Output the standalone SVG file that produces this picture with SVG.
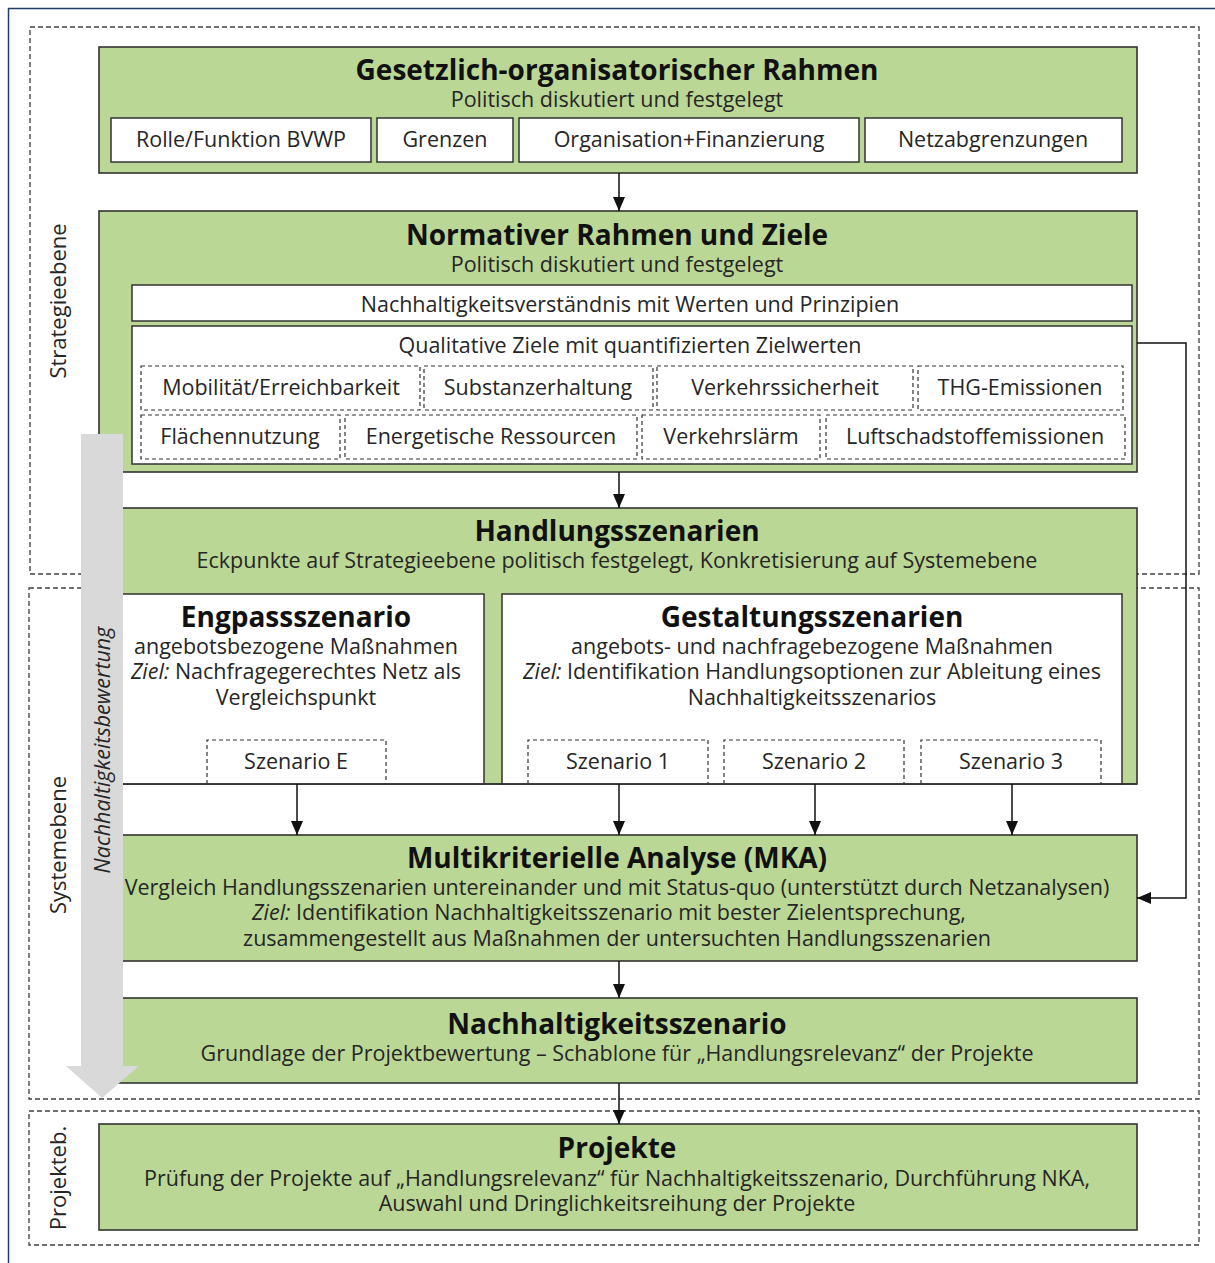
<svg xmlns="http://www.w3.org/2000/svg" width="1215" height="1263" viewBox="0 0 1215 1263">
<defs>
<style>
.frame{fill:none;stroke:#1f3d6b;stroke-width:1.5}
.sec{fill:none;stroke:#404040;stroke-width:1.3;stroke-dasharray:5,3}
.g{fill:#bbd795;stroke:#333;stroke-width:1.6}
.w{fill:#fff;stroke:#333;stroke-width:1.5}
.d{fill:#fff;stroke:#333;stroke-width:1.2;stroke-dasharray:4,3}
.dl{fill:none;stroke:#333;stroke-width:1.2;stroke-dasharray:4,3}
text{font-family:"Open Sans","Noto Sans","DejaVu Sans",sans-serif;fill:#262626;text-anchor:middle}
.t{font-size:28px;font-weight:bold;fill:#111}
.s{font-size:21.5px}
.lab{font-size:22px}
.conn{fill:none;stroke:#111;stroke-width:1.5}
</style>
<marker id="ah" viewBox="0 0 14 12" refX="14" refY="6" markerWidth="14" markerHeight="12" markerUnits="userSpaceOnUse" orient="auto">
<path d="M0,0 L14,6 L0,12 z" fill="#111"/>
</marker>
</defs>
<rect width="1215" height="1263" fill="#fff"/>
<rect class="frame" x="8.5" y="8.5" width="1230" height="1280"/>

<g id="sections">
<rect class="sec" x="30" y="27" width="1169" height="547"/>
<rect class="sec" x="29" y="588" width="1170" height="511"/>
<rect class="sec" x="29" y="1111" width="1170" height="134"/>
<text class="lab" transform="translate(66,301) rotate(-90)">Strategieebene</text>
<text class="lab" transform="translate(66,845) rotate(-90)">Systemebene</text>
<text class="lab" transform="translate(66,1178) rotate(-90)">Projekteb.</text>
</g>

<g id="gesetzlich">
<rect class="g" x="99" y="47" width="1038" height="126"/>
<text class="t" x="617" y="80">Gesetzlich-organisatorischer Rahmen</text>
<text class="s" x="617" y="107">Politisch diskutiert und festgelegt</text>
<rect class="w" x="111" y="118" width="260" height="44"/>
<text class="s" x="241" y="147">Rolle/Funktion BVWP</text>
<rect class="w" x="377" y="118" width="136" height="44"/>
<text class="s" x="445" y="147">Grenzen</text>
<rect class="w" x="519" y="118" width="340" height="44"/>
<text class="s" x="689" y="147">Organisation+Finanzierung</text>
<rect class="w" x="865" y="118" width="257" height="44"/>
<text class="s" x="993" y="147">Netzabgrenzungen</text>
</g>

<g id="normativ">
<rect class="g" x="99" y="211" width="1038" height="261"/>
<text class="t" x="617" y="245">Normativer Rahmen und Ziele</text>
<text class="s" x="617" y="272">Politisch diskutiert und festgelegt</text>
<rect class="w" x="132" y="285" width="1000" height="36"/>
<text class="s" x="630" y="312">Nachhaltigkeitsverständnis mit Werten und Prinzipien</text>
<rect class="w" x="132" y="326" width="1000" height="138"/>
<text class="s" x="630" y="353">Qualitative Ziele mit quantifizierten Zielwerten</text>
<rect class="d" x="141" y="366" width="279" height="44"/>
<text class="s" x="281" y="395">Mobilität/Erreichbarkeit</text>
<rect class="d" x="424" y="366" width="229" height="44"/>
<text class="s" x="538" y="395">Substanzerhaltung</text>
<rect class="d" x="657" y="366" width="256" height="44"/>
<text class="s" x="785" y="395">Verkehrssicherheit</text>
<rect class="d" x="918" y="366" width="205" height="44"/>
<text class="s" x="1020" y="395">THG-Emissionen</text>
<rect class="d" x="141" y="415" width="199" height="44"/>
<text class="s" x="240" y="444">Flächennutzung</text>
<rect class="d" x="345" y="415" width="292" height="44"/>
<text class="s" x="491" y="444">Energetische Ressourcen</text>
<rect class="d" x="642" y="415" width="178" height="44"/>
<text class="s" x="731" y="444">Verkehrslärm</text>
<rect class="d" x="826" y="415" width="299" height="44"/>
<text class="s" x="975" y="444">Luftschadstoffemissionen</text>
</g>

<g id="handlung">
<rect class="g" x="100" y="508" width="1037" height="276"/>
<text class="t" x="617" y="541">Handlungsszenarien</text>
<text class="s" x="617" y="568">Eckpunkte auf Strategieebene politisch festgelegt, Konkretisierung auf Systemebene</text>
<rect class="w" x="100" y="594" width="384" height="190"/>
<text class="t" x="296" y="627">Engpassszenario</text>
<text class="s" x="296" y="654">angebotsbezogene Maßnahmen</text>
<text class="s" x="296" y="679"><tspan font-style="italic">Ziel:</tspan> Nachfragegerechtes Netz als</text>
<text class="s" x="296" y="705">Vergleichspunkt</text>
<path class="dl" d="M207,784 V740 H386 V784"/>
<text class="s" x="296" y="769">Szenario E</text>
<rect class="w" x="502" y="594" width="620" height="190"/>
<text class="t" x="812" y="627">Gestaltungsszenarien</text>
<text class="s" x="812" y="654">angebots- und nachfragebezogene Maßnahmen</text>
<text class="s" x="812" y="679"><tspan font-style="italic">Ziel:</tspan> Identifikation Handlungsoptionen zur Ableitung eines</text>
<text class="s" x="812" y="705">Nachhaltigkeitsszenarios</text>
<path class="dl" d="M528,784 V740 H708 V784"/>
<text class="s" x="618" y="769">Szenario 1</text>
<path class="dl" d="M724,784 V740 H904 V784"/>
<text class="s" x="814" y="769">Szenario 2</text>
<path class="dl" d="M921,784 V740 H1101 V784"/>
<text class="s" x="1011" y="769">Szenario 3</text>
<line x1="100" y1="784" x2="1137" y2="784" stroke="#333" stroke-width="1.6"/>
</g>

<g id="mka">
<rect class="g" x="100" y="835" width="1037" height="126"/>
<text class="t" x="617" y="868">Multikriterielle Analyse (MKA)</text>
<text class="s" x="617" y="895">Vergleich Handlungsszenarien untereinander und mit Status-quo (unterstützt durch Netzanalysen)</text>
<text class="s" x="609" y="920"><tspan font-style="italic">Ziel:</tspan> Identifikation Nachhaltigkeitsszenario mit bester Zielentsprechung,</text>
<text class="s" x="617" y="946">zusammengestellt aus Maßnahmen der untersuchten Handlungsszenarien</text>
</g>

<g id="nachhaltigkeitsszenario">
<rect class="g" x="100" y="998" width="1037" height="85"/>
<text class="t" x="617" y="1034">Nachhaltigkeitsszenario</text>
<text class="s" x="617" y="1061">Grundlage der Projektbewertung – Schablone für „Handlungsrelevanz“ der Projekte</text>
</g>

<g id="projekte">
<rect class="g" x="99" y="1124" width="1038" height="106"/>
<text class="t" x="617" y="1158">Projekte</text>
<text class="s" x="617" y="1186">Prüfung der Projekte auf „Handlungsrelevanz“ für Nachhaltigkeitsszenario, Durchführung NKA,</text>
<text class="s" x="617" y="1211">Auswahl und Dringlichkeitsreihung der Projekte</text>
</g>

<g id="connectors">
<line class="conn" x1="619" y1="173" x2="619" y2="211" marker-end="url(#ah)"/>
<line class="conn" x1="619" y1="472" x2="619" y2="508" marker-end="url(#ah)"/>
<line class="conn" x1="297" y1="784" x2="297" y2="835" marker-end="url(#ah)"/>
<line class="conn" x1="619" y1="784" x2="619" y2="835" marker-end="url(#ah)"/>
<line class="conn" x1="815" y1="784" x2="815" y2="835" marker-end="url(#ah)"/>
<line class="conn" x1="1012" y1="784" x2="1012" y2="835" marker-end="url(#ah)"/>
<line class="conn" x1="619" y1="961" x2="619" y2="998" marker-end="url(#ah)"/>
<line class="conn" x1="619" y1="1083" x2="619" y2="1124" marker-end="url(#ah)"/>
<polyline class="conn" points="1137,343 1186,343 1186,898 1137,898" marker-end="url(#ah)"/>
</g>

<g id="bewertung">
<path d="M81,434 H123 V1066 H139 L102,1098 L66,1066 H81 Z" fill="#d9d9d9"/>
<text class="s" font-size="21.8px" font-style="italic" transform="translate(110,750) rotate(-90)">Nachhaltigkeitsbewertung</text>
</g>
</svg>
